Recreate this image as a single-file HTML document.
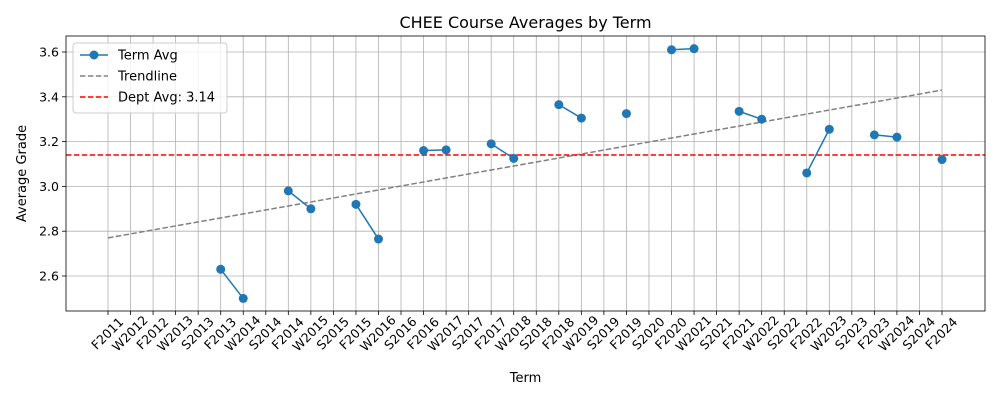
<!DOCTYPE html>
<html><head><meta charset="utf-8"><style>
body{margin:0;background:#fff;font-family:"Liberation Sans","DejaVu Sans",sans-serif}
svg text{font-family:"DejaVu Sans","Liberation Sans",sans-serif;fill:#000}
</style></head><body>
<svg id="chart" width="1000" height="400" viewBox="0 0 1000 400" xmlns="http://www.w3.org/2000/svg"></svg>
<script>
const categories=["F2011","W2012","F2012","W2013","S2013","F2013","W2014","S2014","F2014","W2015","S2015","F2015","W2016","S2016","F2016","W2017","S2017","F2017","W2018","S2018","F2018","W2019","S2019","F2019","S2020","F2020","W2021","S2021","F2021","W2022","S2022","F2022","W2023","S2023","F2023","W2024","S2024","F2024"];
const termAvg=[null,null,null,null,null,2.63,2.50,null,2.98,2.90,null,2.92,2.765,null,3.16,3.163,null,3.19,3.125,null,3.365,3.305,null,3.325,null,3.61,3.615,null,3.335,3.30,null,3.06,3.255,null,3.23,3.22,null,3.12];
const trendStart=2.77;
const trendEnd=3.43;
const deptAvg=3.14;
const yTicks=[2.6,2.8,3.0,3.2,3.4,3.6];
const NS="http://www.w3.org/2000/svg";
const svg=document.getElementById('chart');
const L=66,R=985,T=36,B=311;
const x=i=>108+i*(942-108)/(categories.length-1);
const y=v=>276+(2.6-v)*224;
function mk(tag,attrs,parent){const e=document.createElementNS(NS,tag);for(const k in attrs)e.setAttribute(k,attrs[k]);(parent||svg).appendChild(e);return e;}
const grid=mk('g',{});


categories.forEach((c,i)=>{
  mk('line',{x1:x(i),x2:x(i),y1:T,y2:B,stroke:'#b0b0b0','stroke-width':0.8},grid);
  mk('line',{x1:x(i),x2:x(i),y1:B,y2:B+4,stroke:'#000','stroke-width':0.8});
  const t=mk('text',{x:x(i),y:334,'font-size':12.5,'text-anchor':'middle','dominant-baseline':'middle',transform:`rotate(-45 ${x(i)} 334)`});
  t.textContent=c;
  
  
});
yTicks.forEach(v=>{
  mk('line',{x1:L,x2:R,y1:y(v),y2:y(v),stroke:'#b0b0b0','stroke-width':0.8},grid);
  mk('line',{x1:L-4,x2:L,y1:y(v),y2:y(v),stroke:'#000','stroke-width':0.8});
  const t=mk('text',{x:L-7,y:y(v)+4.5,'font-size':12.5,'text-anchor':'end'});
  t.textContent=v.toFixed(1);
  
  
});
// trendline
const tr=mk('line',{x1:x(0),y1:y(trendStart),x2:x(categories.length-1),y2:y(trendEnd),stroke:'#808080','stroke-width':1.5,'stroke-dasharray':'5.5,2.4'});


const da=mk('line',{x1:L,x2:R,y1:y(deptAvg),y2:y(deptAvg),stroke:'#ff0000','stroke-width':1.5,'stroke-dasharray':'5.5,2.4'});


// series
let seg=[];
const segs=[];
termAvg.forEach((v,i)=>{if(v==null){if(seg.length)segs.push(seg);seg=[];}else seg.push([x(i),y(v)]);});
if(seg.length)segs.push(seg);
segs.forEach(s=>{const p=mk('polyline',{points:s.map(p=>p.join(',')).join(' '),fill:'none',stroke:'#1f77b4','stroke-width':1.5});

});
termAvg.forEach((v,i)=>{if(v==null)return;const c=mk('circle',{cx:x(i),cy:y(v),r:4.5,fill:'#1f77b4'});

});
const fr=mk('rect',{x:L,y:T,width:R-L,height:B-T,fill:'none',stroke:'#000','stroke-width':0.8});


const title=mk('text',{x:(L+R)/2,y:28,'font-size':16,'text-anchor':'middle'});title.textContent='CHEE Course Averages by Term';


const xt=mk('text',{x:(L+R)/2,y:382,'font-size':13,'text-anchor':'middle'});xt.textContent='Term';


const yt=mk('text',{x:26,y:(T+B)/2,'font-size':13,'text-anchor':'middle',transform:`rotate(-90 26 ${(T+B)/2})`});yt.textContent='Average Grade';


// legend
const lg=mk('g',{});


mk('rect',{x:73,y:43,width:154,height:70,rx:3,fill:'#fff','fill-opacity':0.8,stroke:'#ccc'},lg);
const items=[['Term Avg','#1f77b4',null,true],['Trendline','#808080','5.5,2.4',false],['Dept Avg: 3.14','#ff0000','5.5,2.4',false]];
items.forEach((it,k)=>{const yy=55+k*21;
 const l=mk('line',{x1:80,x2:108,y1:yy,y2:yy,stroke:it[1],'stroke-width':1.5},lg);if(it[2])l.setAttribute('stroke-dasharray',it[2]);
 if(it[3])mk('circle',{cx:94,cy:yy,r:4.5,fill:it[1]},lg);
 const t=mk('text',{x:118,y:yy+4.5,'font-size':13},lg);t.textContent=it[0];
 
 });
</script>
</body></html>
